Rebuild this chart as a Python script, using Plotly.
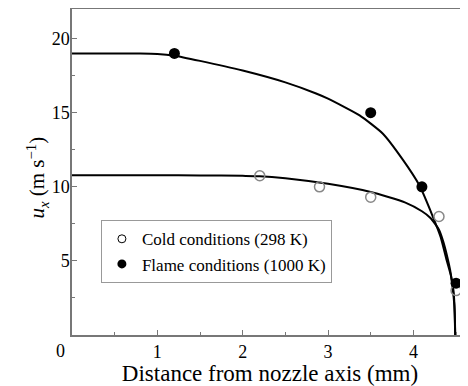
import plotly.graph_objects as go

# Measured points
cold_x = [2.2, 2.9, 3.5, 4.3, 4.5]
cold_y = [10.75, 10.0, 9.3, 8.0, 3.0]
flame_x = [1.2, 3.5, 4.1, 4.5]
flame_y = [19.0, 15.0, 10.0, 3.5]

# Fitted profile curves
cold_fit_x = [0, 1.0, 1.5, 2.0, 2.2, 2.5, 3.0, 3.5, 3.9, 4.1, 4.2, 4.3, 4.35, 4.4, 4.43, 4.46, 4.48, 4.49]
cold_fit_y = [10.78, 10.78, 10.77, 10.74, 10.72, 10.58, 10.2, 9.65, 8.95, 8.35, 7.9, 7.1, 6.3, 5.2, 4.4, 3.2, 2.0, 0]
flame_fit_x = [0, 0.5, 0.8, 1.0, 1.2, 1.5, 2.0, 2.5, 2.86, 3.0, 3.37, 3.64, 3.88, 4.07, 4.23, 4.32, 4.39, 4.44, 4.47, 4.485, 4.49]
flame_fit_y = [19.0, 19.0, 19.0, 18.97, 18.85, 18.5, 17.85, 17.05, 16.3, 15.95, 14.82, 13.6, 11.8, 10.1, 7.96, 6.6, 5.04, 4.0, 3.0, 1.5, 0]

x_ticks = [1, 2, 3, 4]
y_ticks = [5, 10, 15, 20]

serif = "Liberation Serif, Times New Roman, serif"

fig = go.Figure()
for fx, fy in ((flame_fit_x, flame_fit_y), (cold_fit_x, cold_fit_y)):
    fig.add_trace(go.Scatter(x=fx, y=fy, mode="lines",
                             line=dict(color="black", width=2, shape="spline", smoothing=0.5),
                             showlegend=False, hoverinfo="skip"))
fig.add_trace(go.Scatter(x=cold_x, y=cold_y, mode="markers",
                         marker=dict(symbol="circle-open", size=10, color="#888888",
                                     line=dict(width=1.5, color="#888888")),
                         showlegend=False))
fig.add_trace(go.Scatter(x=flame_x, y=flame_y, mode="markers",
                         marker=dict(symbol="circle", size=11, color="black"),
                         showlegend=False))
# legend entries
fig.add_trace(go.Scatter(x=[None], y=[None], mode="markers", name="Cold conditions (298 K)",
                         marker=dict(symbol="circle-open", size=8, color="black",
                                     line=dict(width=1, color="black"))))
fig.add_trace(go.Scatter(x=[None], y=[None], mode="markers", name="Flame conditions (1000 K)",
                         marker=dict(symbol="circle", size=9, color="black")))

axis_color = "#777777"
fig.update_layout(
    width=460, height=378,
    margin=dict(l=64, r=0, t=1, b=51),
    plot_bgcolor="white", paper_bgcolor="white",
    font=dict(family=serif, color="black", size=18),
    legend=dict(x=0.073, y=0.352, xanchor="left", yanchor="top",
                bordercolor="#999999", borderwidth=1, bgcolor="white",
                font=dict(family=serif, size=17), itemwidth=30,
                tracegroupgap=0),
    xaxis=dict(range=[0, 4.64], tickvals=x_ticks, ticks="inside", ticklen=5,
               tickcolor=axis_color, showline=True, linecolor=axis_color, linewidth=1.5,
               mirror=True, showgrid=False, zeroline=False,
               minor=dict(tickvals=[0.5, 1.5, 2.5, 3.5, 4.5], ticks="inside", ticklen=3,
                          tickcolor=axis_color),
               title=dict(text="Distance from nozzle axis (mm)", font=dict(size=23), standoff=3),
               tickfont=dict(size=18)),
    yaxis=dict(range=[0, 22], tickvals=y_ticks, ticks="inside", ticklen=5,
               tickcolor=axis_color, showline=True, linecolor=axis_color, linewidth=1.5,
               showgrid=False, zeroline=False, ticklabelstandoff=-3,
               minor=dict(tickvals=[2.5, 7.5, 12.5, 17.5], ticks="inside", ticklen=3,
                          tickcolor=axis_color),
               tickfont=dict(size=18)),
    annotations=[
        dict(text="0", x=0, y=0, xref="x", yref="y", xshift=-12, yshift=-16,
             showarrow=False, font=dict(size=18)),
        dict(text="<i>u</i><sub><i>x</i></sub> (m s<sup>−1</sup>)", x=0, y=0.5,
             xref="paper", yref="paper", xshift=-52, yshift=-6, textangle=-90,
             showarrow=False, font=dict(size=21)),
    ],
)

fig.write_html("out.html")
